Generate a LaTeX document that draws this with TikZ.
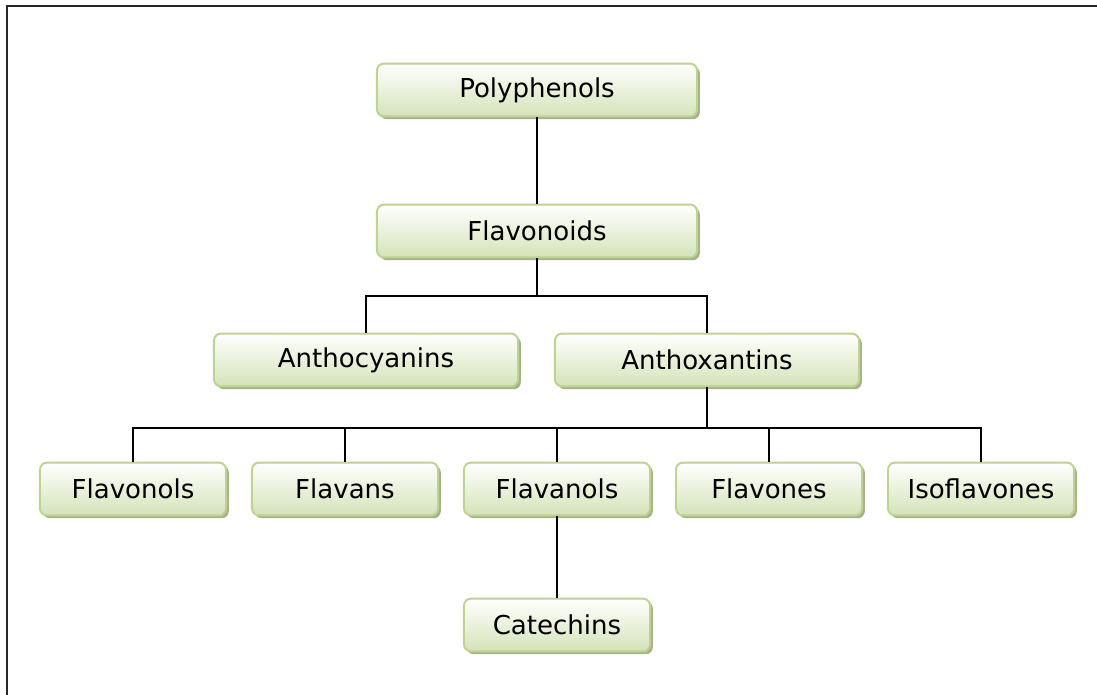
\documentclass[tikz,border=0pt]{standalone}
\usepackage{fontspec}
\usepackage{tikz}
\usetikzlibrary{shadows}
\newfontfamily\boxfont{DejaVu Sans}
\definecolor{boxline}{RGB}{190,210,145}
\definecolor{boxbot}{RGB}{212,227,184}
\definecolor{boxshade}{RGB}{150,165,120}
\tikzset{
  klass/.style={draw=boxline,line width=1.4pt,rounded corners=5pt,
    top color=white,bottom color=boxbot,
    drop shadow={shadow xshift=2pt,shadow yshift=-2pt,fill=boxshade,opacity=.85},
    minimum height=1.32cm,font=\boxfont\fontsize{18.5}{22}\selectfont},
  wide/.style={klass,minimum width=8.0cm},
  mid/.style={klass,minimum width=7.6cm},
  small/.style={klass,minimum width=4.65cm},
  link/.style={line width=1.6pt}
}
\begin{document}
\begin{tikzpicture}[x=0.025cm,y=-0.025cm]
\useasboundingbox (0,0) rectangle (1097,695);
\draw[line width=1.8pt,black!85] (7,695) -- (7,6) -- (1097,6);
% top of the tree
\node[wide] (poly) at (537,90) {Polyphenols};
\node[wide] (flav) at (537,231) {Flavonoids};
\node[mid] (antc) at (366,360) {Anthocyanins};
\node[mid] (antx) at (707,360) {Anthoxantins};
\coordinate (fbar) at (537,296);
\coordinate (xbar) at (707,428);
% bottom row
\foreach \n/\x/\t in {flvl/133/Flavonols,flvn/345/Flavans,flnl/557/Flavanols,flvo/769/Flavones,isof/981/Isoflavones}
  \node[small] (\n) at (\x,489) {\t};
\node[small] (cate) at (557,625) {Catechins};
% connectors
\draw[link] (poly) -- (flav);
\draw[link] (flav) -- (fbar);
\draw[link] (antc.north) |- (fbar) -| (antx.north);
\draw[link] (antx) -- (xbar);
\foreach \n in {flvl,flvn,flnl,flvo,isof}
  \draw[link] (xbar) -| (\n.north);
\draw[link] (flnl) -- (cate);
\end{tikzpicture}
\end{document}
